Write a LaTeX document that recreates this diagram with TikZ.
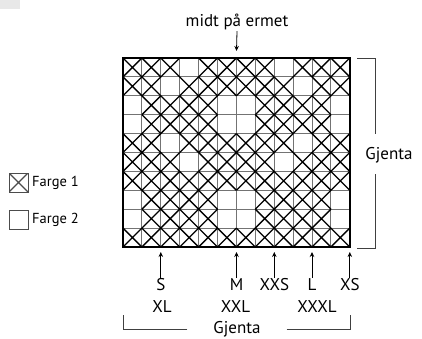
\documentclass[tikz,border=0pt]{standalone}
\usepackage{fontspec}
\setmainfont{PT Sans}
\usetikzlibrary{arrows.meta}

\tikzset{
  >={Stealth[length=5pt,width=4.5pt]},
  cellx/.style={line width=1.3pt, black},
  gridline/.style={line width=0.9pt, black!55},
  gridframe/.style={line width=1.8pt, black},
  bracket/.style={line width=0.9pt, black!75},
  lbl/.style={font=\fontsize{17}{20}\selectfont, inner sep=1pt},
  leglbl/.style={font=\fontsize{14.5}{17}\selectfont, inner sep=1pt, anchor=west},
  legbox/.style={draw=black!70, line width=0.9pt, minimum size=19pt, inner sep=0pt},
  arr/.style={->, line width=0.8pt},
}

\begin{document}
\begin{tikzpicture}[x=1pt,y=-1pt]
	\useasboundingbox (0,0) rectangle (422,339);
	\fill[black!9] (0,0) rectangle (20,9);

	% grid lines
	\foreach \i in {1,...,11}
		\draw[gridline] ({123+\i*18.9},58) -- ({123+\i*18.9},247);
	\foreach \j in {1,...,9}
		\draw[gridline] (123,{58+\j*18.9}) -- (349.8,{58+\j*18.9});

	% farge 1 cells
	\foreach \row [count=\r] in {
		{1,1,1,0,1,1,1,1,0,1,1,1},
		{1,1,0,1,1,1,1,1,1,0,1,1},
		{0,1,1,1,1,0,0,1,1,1,1,0},
		{0,1,1,1,1,0,0,1,1,1,1,0},
		{1,1,0,1,1,1,1,1,1,0,1,1},
		{1,1,1,0,1,1,1,1,0,1,1,1},
		{1,1,1,1,1,1,1,1,1,1,1,1},
		{0,1,1,1,1,0,0,1,1,1,1,0},
		{0,1,1,1,1,0,0,1,1,1,1,0},
		{1,1,1,1,1,1,1,1,1,1,1,1}}{
		\foreach \v [count=\c] in \row {
			\ifnum\v=1
				\draw[cellx] ({123+(\c-1)*18.9},{58+(\r-1)*18.9}) -- ++(18.9,18.9)
					++(0,-18.9) -- ++(-18.9,18.9);
			\fi
		}
	}
	\draw[gridframe] (123,58) rectangle (349.8,247);

	% top
	\node[lbl] (midt) at (237,22) {midt på ermet};
	\coordinate (ctop) at (236.5,51);
	\draw[arr] (midt.south) -- (ctop);

	% sizes
	\node[lbl] (s) at (160.8,285) {S};
	\node[lbl] (m) at (236.5,285) {M};
	\node[lbl] (xxs) at (274.3,285) {XXS};
	\node[lbl] (l) at (312,285) {L};
	\node[lbl] (xs) at (349.8,285) {XS};
	\node[lbl] (xl) at (162,307) {XL};
	\node[lbl] (xxl) at (235.5,307) {XXL};
	\node[lbl] (xxxl) at (317,307) {XXXL};

	\coordinate (b2) at (160.8,252);
	\coordinate (b6) at (236.5,252);
	\coordinate (b8) at (274.3,252);
	\coordinate (b10) at (312,252);
	\coordinate (b12) at (349.8,252);
	\draw[arr] (s.north) -- (b2);
	\draw[arr] (m.north) -- (b6);
	\draw[arr] (xxs.north) -- (b8);
	\draw[arr] (l.north) -- (b10);
	\draw[arr] (xs.north) -- (b12);

	% gjenta
	\node[lbl, inner xsep=26pt] (gjb) at (237,329) {Gjenta};
	\draw[bracket] (gjb.west) -| (123,315);
	\draw[bracket] (gjb.east) -| (350,315);

	\node[lbl] (gjr) at (389,155) {Gjenta};
	\draw[bracket] (357,58) -- (375,58) -- (375,134);
	\draw[bracket] (375,174) -- (375,248) -- (357,248);

	% legend
	\node[legbox, path picture={
		\draw[line width=1.2pt] (path picture bounding box.north west) -- (path picture bounding box.south east)
			(path picture bounding box.south west) -- (path picture bounding box.north east);}]
		(f1box) at (18.5,182.5) {};
	\node[leglbl] (f1) at (31,183) {Farge 1};
	\node[legbox] (f2box) at (18.5,219.5) {};
	\node[leglbl] (f2) at (31,220) {Farge 2};
\end{tikzpicture}
\end{document}
